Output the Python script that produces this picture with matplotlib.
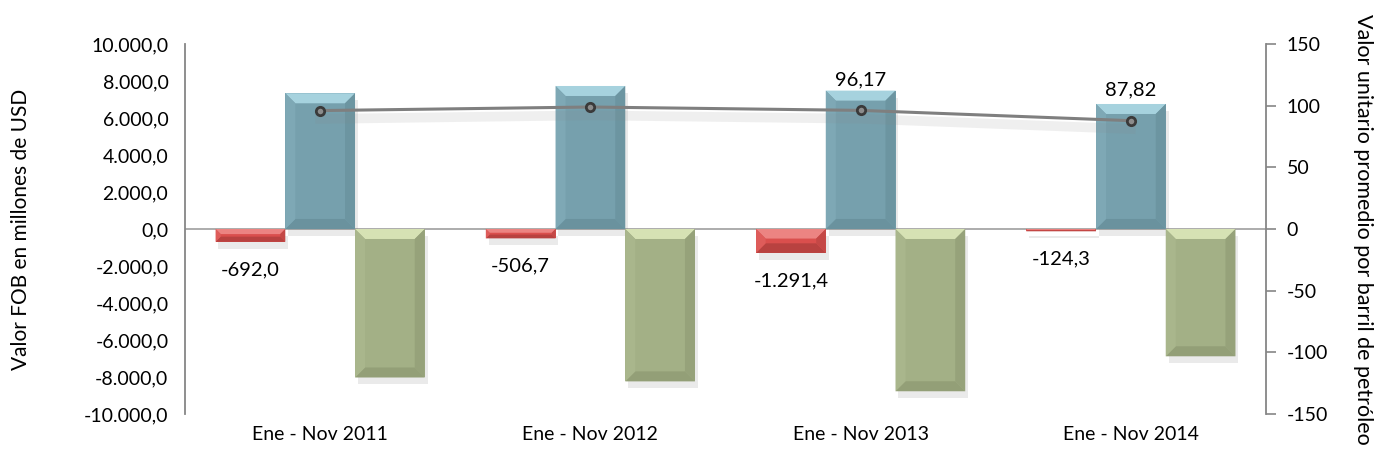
import matplotlib.pyplot as plt
import matplotlib.patheffects as pe
from matplotlib.patches import Polygon
from matplotlib.ticker import FuncFormatter

plt.rcParams["font.family"] = ["Lato", "DejaVu Sans"]
plt.rcParams["axes.unicode_minus"] = False

CATEGORIES = ["Ene - Nov 2011", "Ene - Nov 2012", "Ene - Nov 2013", "Ene - Nov 2014"]
BALANCE = [-692.0, -506.7, -1291.4, -124.3]
EXPORTS = [7335.0, 7730.0, 7480.0, 6757.0]
IMPORTS = [-8027.0, -8237.0, -8771.0, -6881.0]
PRICE = [96.0, 98.9, 96.17, 87.82]
PRICE_LABELS = ["", "", "96,17", "87,82"]

# (face, top, bottom, left, right) for bevelled bars
RED = ("#DA4F4D", "#EC8482", "#B84240", "#DE5C5A", "#C44846")
BLUE = ("#76A0AD", "#A6D2DE", "#6A929E", "#7EA8B5", "#6C95A1")
GREEN = ("#A3B086", "#D6E2B4", "#939F77", "#A9B68C", "#96A27A")

GRAY = "#868686"


def fmt_es(value, decimals=1):
    text = f"{value:,.{decimals}f}"
    return text.replace(",", "X").replace(".", ",").replace("X", ".")


def bevel_bar(ax, x, width, value, colors, bevel_px=10):
    face, top_c, bot_c, left_c, right_c = colors
    x0, x1 = x - width / 2, x + width / 2
    y_lo, y_hi = min(0, value), max(0, value)

    # bevel size is given in pixels, turn it into data units
    p0 = ax.transData.transform((0, 0))
    p1 = ax.transData.transform((1, 1))
    px_x = abs(p1[0] - p0[0])
    px_y = abs(p1[1] - p0[1])
    height_px = (y_hi - y_lo) * px_y
    b_px = min(bevel_px, height_px / 2.5)
    bx = b_px / px_x
    by = b_px / px_y

    shadow = [pe.SimplePatchShadow(offset=(2, -5), shadow_rgbFace="#777777", alpha=0.15), pe.Normal()]
    body = plt.Rectangle((x0, y_lo), width, y_hi - y_lo, facecolor=face, edgecolor="none", zorder=2)
    body.set_path_effects(shadow)
    ax.add_patch(body)

    facets = [
        ([(x0, y_hi), (x1, y_hi), (x1 - bx, y_hi - by), (x0 + bx, y_hi - by)], top_c),
        ([(x0, y_lo), (x1, y_lo), (x1 - bx, y_lo + by), (x0 + bx, y_lo + by)], bot_c),
        ([(x0, y_lo), (x0, y_hi), (x0 + bx, y_hi - by), (x0 + bx, y_lo + by)], left_c),
        ([(x1, y_lo), (x1, y_hi), (x1 - bx, y_hi - by), (x1 - bx, y_lo + by)], right_c),
    ]
    for points, color in facets:
        ax.add_patch(Polygon(points, closed=True, facecolor=color, edgecolor="none", zorder=2.1))


fig = plt.figure(figsize=(13.83, 4.62), dpi=100)
ax = fig.add_axes([0.1338, 0.1039, 0.9154 - 0.1338, 0.9048 - 0.1039])
ax2 = ax.twinx()

ax.set_xlim(-0.5, 3.5)
ax.set_ylim(-10000, 10000)
ax2.set_ylim(-150, 150)

positions = list(range(len(CATEGORIES)))
width = 0.258

ax.axhline(0, color="#A6A6A6", lw=1.3, zorder=1)

for i in positions:
    bevel_bar(ax, i - width, width, BALANCE[i], RED)
    bevel_bar(ax, i, width, EXPORTS[i], BLUE)
    bevel_bar(ax, i + width, width, IMPORTS[i], GREEN)
    ax.text(i - width, BALANCE[i] - 1500, fmt_es(BALANCE[i]), ha="center", va="center", fontsize=14.5, color="black")

ax2.plot(
    positions, PRICE, color="#7F7F7F", lw=2.2, zorder=5,
    path_effects=[pe.SimpleLineShadow(offset=(0, -6), shadow_color="#888888", alpha=0.13, linewidth=7), pe.Normal()],
)
ax2.plot(
    positions, PRICE, linestyle="none", marker="o", markersize=6,
    markerfacecolor="#8C8C8C", markeredgecolor="#3A3A3A", markeredgewidth=2, zorder=6,
)
for i in positions:
    if PRICE_LABELS[i]:
        ax2.text(i, PRICE[i] + 25, PRICE_LABELS[i], ha="center", va="center", fontsize=14.5, color="black")

ax.set_xticks(positions)
ax.set_xticklabels(CATEGORIES, fontsize=14)
ax.tick_params(axis="x", length=0, pad=9)

ax.set_yticks(range(-10000, 10001, 2000))
ax.yaxis.set_major_formatter(FuncFormatter(lambda v, _: fmt_es(v)))
ax.tick_params(axis="y", length=0, pad=12, labelsize=14)
ax.set_ylabel("Valor FOB en millones de USD", fontsize=15, labelpad=38)

ax2.set_yticks(range(-150, 151, 50))
ax2.tick_params(axis="y", length=7, width=1.2, color=GRAY, pad=8, labelsize=14)
ax2.set_ylabel("Valor unitario promedio por barril de petróleo", fontsize=15.5, rotation=270, labelpad=32)

for a in (ax, ax2):
    a.spines["top"].set_visible(False)
    a.spines["bottom"].set_visible(False)
    a.spines["left"].set_color(GRAY)
    a.spines["right"].set_color(GRAY)
    a.spines["left"].set_linewidth(1.3)
    a.spines["right"].set_linewidth(1.3)
ax.spines["right"].set_visible(False)
ax2.spines["left"].set_visible(False)

ax2.set_zorder(ax.get_zorder() + 1)
ax2.patch.set_visible(False)

fig.savefig("out.png", dpi=100)
